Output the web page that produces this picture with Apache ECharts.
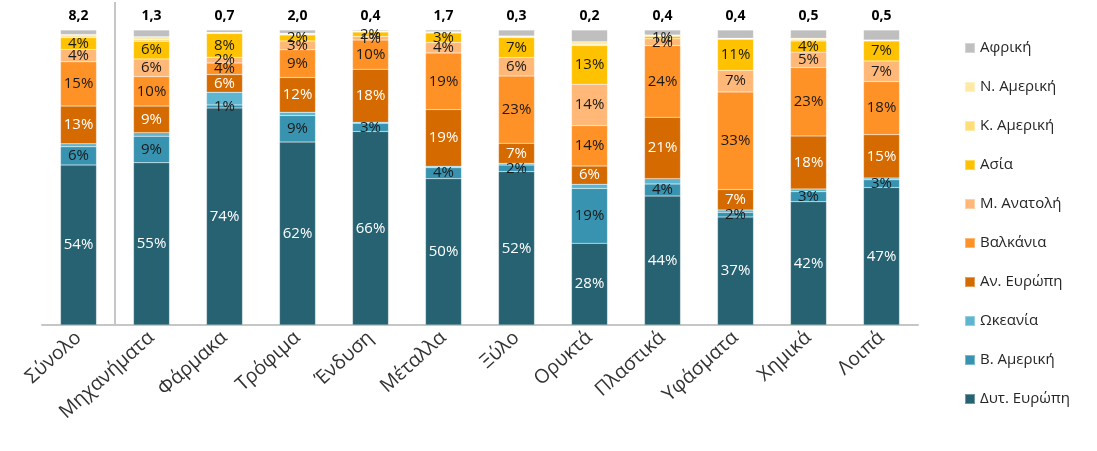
<!DOCTYPE html>
<html>
<head>
<meta charset="utf-8">
<script src="https://cdn.jsdelivr.net/npm/echarts@6/dist/echarts.min.js"></script>
<style>
html,body{margin:0;padding:0;background:#fff;}
#c{width:1097px;height:451px;}
</style>
</head>
<body>
<div id="c"></div>
<script>
const categories = ['Σύνολο','Μηχανήματα','Φάρμακα','Τρόφιμα','Ένδυση','Μέταλλα','Ξύλο','Ορυκτά','Πλαστικά','Υφάσματα','Χημικά','Λοιπά'];
const totals = ['8,2','1,3','0,7','2,0','0,4','1,7','0,3','0,2','0,4','0,4','0,5','0,5'];

const westEurope   = [54.2, 55.0, 73.6, 62.0, 65.6, 49.6, 52.0, 27.7, 43.7, 36.6, 41.8, 46.6];
const northAmerica = [6.2, 9.0, 1.0, 9.0, 2.8, 3.7, 2.2, 18.6, 4.1, 1.6, 3.4, 2.6];
const oceania      = [1.0, 1.2, 4.3, 1.1, 0.3, 0.5, 0.6, 1.4, 1.8, 0.8, 0.9, 0.6];
const eastEurope   = [12.8, 9.0, 6.0, 11.8, 18.0, 19.2, 6.8, 6.2, 20.8, 6.9, 18.0, 14.7];
const balkans      = [15.0, 10.0, 3.9, 9.4, 9.9, 19.2, 22.8, 13.7, 24.3, 33.1, 23.2, 18.0];
const middleEast   = [4.2, 6.0, 2.0, 3.0, 1.2, 3.6, 6.3, 14.0, 2.3, 7.3, 5.2, 7.0];
const asia         = [4.0, 6.0, 8.0, 2.0, 1.5, 3.2, 6.7, 13.1, 0.9, 10.6, 3.8, 6.8];
const centralAmerica = [0.6, 0.6, 0.2, 0.3, 0.2, 0.2, 0.3, 0.4, 0.2, 0.1, 0.4, 0.1];
const southAmerica = [0.5, 0.9, 0.2, 0.3, 0.2, 0.2, 0.3, 0.9, 0.2, 0.2, 0.5, 0.2];
const africa       = [1.5, 2.3, 0.8, 1.1, 0.3, 0.6, 2.0, 4.0, 1.7, 2.8, 2.8, 3.4];

const seriesDefs = [
  {name:'Δυτ. Ευρώπη', data: westEurope, color:'#266271', label:'#ffffff'},
  {name:'Β. Αμερική', data: northAmerica, color:'#3793AF', label:'#1a1a1a'},
  {name:'Ωκεανία', data: oceania, color:'#5DB5CF', label:null},
  {name:'Αν. Ευρώπη', data: eastEurope, color:'#D56B00', label:'#ffffff'},
  {name:'Βαλκάνια', data: balkans, color:'#FF9226', label:'#1a1a1a'},
  {name:'Μ. Ανατολή', data: middleEast, color:'#FFB877', label:'#1a1a1a'},
  {name:'Ασία', data: asia, color:'#FFC200', label:'#1a1a1a'},
  {name:'Κ. Αμερική', data: centralAmerica, color:'#FFDD77', label:null},
  {name:'Ν. Αμερική', data: southAmerica, color:'#FFE9A5', label:null},
  {name:'Αφρική', data: africa, color:'#BFBFBF', label:'total'}
];

const FONT = '"Open Sans", "Noto Sans", sans-serif';

const series = seriesDefs.map(d => {
  const s = {
    name: d.name,
    type: 'bar',
    stack: 'all',
    data: d.data,
    barWidth: 36,
    itemStyle: {color: d.color, borderColor: 'rgba(255,255,255,0.35)', borderWidth: 0.5},
    emphasis: {disabled: true}
  };
  if (d.label === 'total') {
    s.label = {
      show: true, position: 'top', distance: 7,
      formatter: p => totals[p.dataIndex],
      fontFamily: FONT, fontSize: 14, fontWeight: 'bold', color: '#000'
    };
  } else if (d.label) {
    s.label = {
      show: true, position: 'inside',
      formatter: p => Math.round(p.value) + '%',
      fontFamily: FONT, fontSize: 15, fontWeight: 'normal', color: d.label,
      textBorderWidth: 0
    };
  }
  return s;
});

const chart = echarts.init(document.getElementById('c'), null, {renderer: 'canvas'});
chart.setOption({
  animation: false,
  backgroundColor: '#ffffff',
  grid: {left: 42, right: 179, top: 30, bottom: 126},
  legend: {
    orient: 'vertical',
    top: 35,
    left: 959,
    data: seriesDefs.map(d => d.name).reverse(),
    itemWidth: 10,
    itemHeight: 10,
    itemGap: 23,
    icon: 'rect',
    textStyle: {fontFamily: FONT, fontSize: 15, color: '#262626', lineHeight: 16},
    selectedMode: false
  },
  xAxis: {
    type: 'category',
    data: categories,
    axisLine: {lineStyle: {color: '#C6C6C6', width: 2}},
    axisTick: {show: false},
    axisLabel: {rotate: 42, fontFamily: FONT, fontSize: 19.5, color: '#333333', margin: 10, interval: 0}
  },
  yAxis: {
    type: 'value', min: 0, max: 100, show: false,
    splitLine: {show: false}
  },
  series: series
});

const xa = chart.convertToPixel({xAxisIndex: 0}, categories[0]);
const xb = chart.convertToPixel({xAxisIndex: 0}, categories[1]);
const yb = chart.convertToPixel({yAxisIndex: 0}, 0);
chart.setOption({
  graphic: [{
    type: 'line',
    shape: {x1: (xa + xb) / 2, y1: 2, x2: (xa + xb) / 2, y2: yb},
    style: {stroke: '#C6C6C6', lineWidth: 2},
    z: 10
  }]
});
</script>
</body>
</html>
